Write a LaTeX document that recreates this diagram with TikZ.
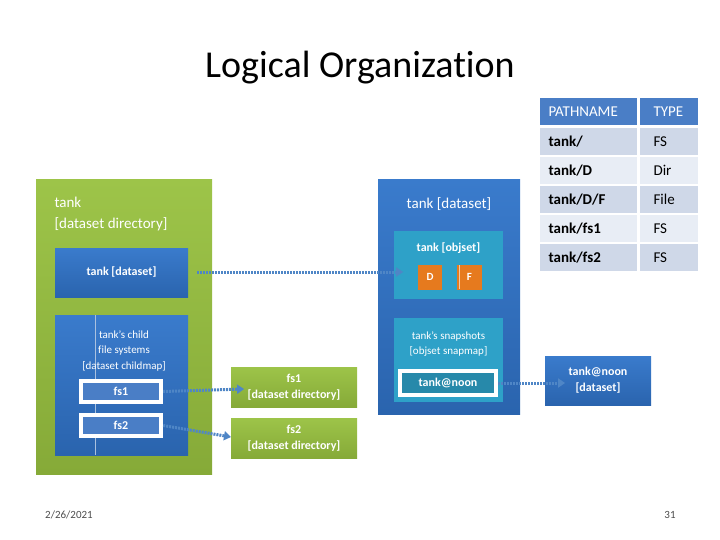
\documentclass[tikz,border=0pt]{standalone}
\usepackage{fontspec}
\setmainfont{Carlito}[Ligatures=NoCommon]
\usetikzlibrary{arrows.meta}
\definecolor{grn}{HTML}{86AA38}
\definecolor{grnT}{HTML}{9DC449}
\definecolor{blu}{HTML}{2A64AE}
\definecolor{bluT}{HTML}{3A7BCC}
\definecolor{cyan2}{HTML}{2EA1C8}
\definecolor{org}{HTML}{E67A1E}
\definecolor{hdr}{HTML}{4A7EC6}
\definecolor{rowA}{HTML}{CFD8E8}
\definecolor{rowB}{HTML}{E8EDF5}
\definecolor{arr}{HTML}{4F86C6}
\begin{document}
\begin{tikzpicture}[x=1pt,y=-1pt,
 box/.style={draw=none,inner sep=0pt},
 green/.style={box,top color=grnT,bottom color=grn},
 blue/.style={box,top color=bluT,bottom color=blu},
 wt/.style={text=white,align=center,font=\fontsize{12}{15}\selectfont},
 dot/.style={arr,line width=3pt,dash pattern=on 2pt off 1pt,-{Triangle[length=7pt,width=9pt]}}]
\useasboundingbox (0,0) rectangle (720,540);
\node[font=\fontsize{38}{44}\selectfont] (title) at (360,68) {Logical Organization};
% left
\path[green] (36,180) rectangle (212,474);
\node[wt,anchor=north west,align=left,font=\fontsize{15}{21}\selectfont] (tankdir) at (51,194) {tank\\{}[dataset directory]};
\path[blue] (55,248) rectangle (188,297);
\node[wt,font=\bfseries\fontsize{12}{15}\selectfont] (tds) at (121.5,272) {tank [dataset]};
\path[blue] (55,315) rectangle (188,455);
\draw[white!60!blu,line width=0.5pt] (95,315) -- (95,455);
\node[wt,font=\fontsize{11}{15.5}\selectfont] (cmap) at (124,351) {tank's child\\file systems\\{}[dataset childmap]};
\node[box,fill=white,minimum width=84pt,minimum height=25pt] (fs1w) at (121,391.5) {};
\node[box,fill=hdr,minimum width=76pt,minimum height=17pt,wt,font=\bfseries\fontsize{12}{15}\selectfont] (fs1) at (121,391.5) {fs1};
\node[box,fill=white,minimum width=84pt,minimum height=25pt] (fs2w) at (121,425.5) {};
\node[box,fill=hdr,minimum width=76pt,minimum height=17pt,wt,font=\bfseries\fontsize{12}{15}\selectfont] (fs2) at (121,425.5) {fs2};
\path[green] (231,367) rectangle (357,407);
\node[wt,font=\bfseries\fontsize{12}{16}\selectfont] (fs1d) at (294,387) {fs1\\{}[dataset directory]};
\path[green] (231,418) rectangle (357,458);
\node[wt,font=\bfseries\fontsize{12}{16}\selectfont] (fs2d) at (294,438) {fs2\\{}[dataset directory]};
% middle
\path[blue] (378,180) rectangle (520,414);
\node[wt,font=\fontsize{15}{18}\selectfont] (tds2) at (449,204) {tank [dataset]};
\path[box,fill=cyan2] (394,231) rectangle (503,299);
\node[wt,font=\bfseries\fontsize{12}{15}\selectfont] (objset) at (448.5,248) {tank [objset]};
\node[box,fill=org,minimum width=24pt,minimum height=25pt,wt,font=\bfseries\fontsize{11}{13}\selectfont] (D) at (430,277) {D};
\node[box,fill=org,minimum width=25pt,minimum height=25pt,wt,font=\bfseries\fontsize{11}{13}\selectfont] (F) at (469.5,277) {F};
\draw[white!60!org,line width=1pt] (459,265) -- (459,289);
\path[box,fill=cyan2] (394,318) rectangle (503,402);
\node[wt,font=\fontsize{11}{15}\selectfont] (smap) at (448.5,344) {tank's snapshots\\{}[objset snapmap]};
\node[box,fill=white,minimum width=100pt,minimum height=28pt] (noonw) at (448,383) {};
\node[box,fill=cyan2!85!black,minimum width=92pt,minimum height=20pt,wt,font=\bfseries\fontsize{12}{15}\selectfont] (noon) at (448,383) {tank@noon};
\path[blue] (545,356) rectangle (651,405);
\node[wt,font=\bfseries\fontsize{12}{16}\selectfont] (noond) at (598,380.5) {tank@noon\\{}[dataset]};
% arrows
\coordinate (a1) at (197,272);
\draw[dot] (a1) -- (tds2.west |- a1);
\draw[dot] (fs1w.east) -- (fs1d.west |- 0,389);
\draw[dot] (fs2w.east) -- (231,437);
\draw[dot] (noonw.east) -- (noond.west |- noonw.east);
% table
\foreach \y/\c in {98/hdr,128/rowA,157/rowB,186/rowA,215/rowB,244/rowA}{
 \path[fill=\c] (540,\y) rectangle (637,\y+27);
 \path[fill=\c] (640,\y) rectangle (698,\y+27);}
\node[anchor=west,text=white,font=\fontsize{15}{18}\selectfont] (h1) at (545,112) {PATHNAME};
\node[anchor=west,text=white,font=\fontsize{15}{18}\selectfont] (h2) at (650,112) {TYPE};
\foreach \y/\p/\t [count=\i] in {141.5/tank\slash/FS,170.5/tank\slash D/Dir,199.5/tank\slash D\slash F/File,228.5/tank\slash fs1/FS,257.5/tank\slash fs2/FS}{
 \node[anchor=west,font=\bfseries\fontsize{15}{18}\selectfont] (p\i) at (545,\y) {\p};
 \node[anchor=west,font=\fontsize{15}{18}\selectfont] (t\i) at (650,\y) {\t};}
\node[font=\fontsize{11}{13}\selectfont,text=black!70] (date) at (69,515) {2/26/2021};
\node[font=\fontsize{11}{13}\selectfont,text=black!70] (pg) at (670,515) {31};
\end{tikzpicture}
\end{document}
